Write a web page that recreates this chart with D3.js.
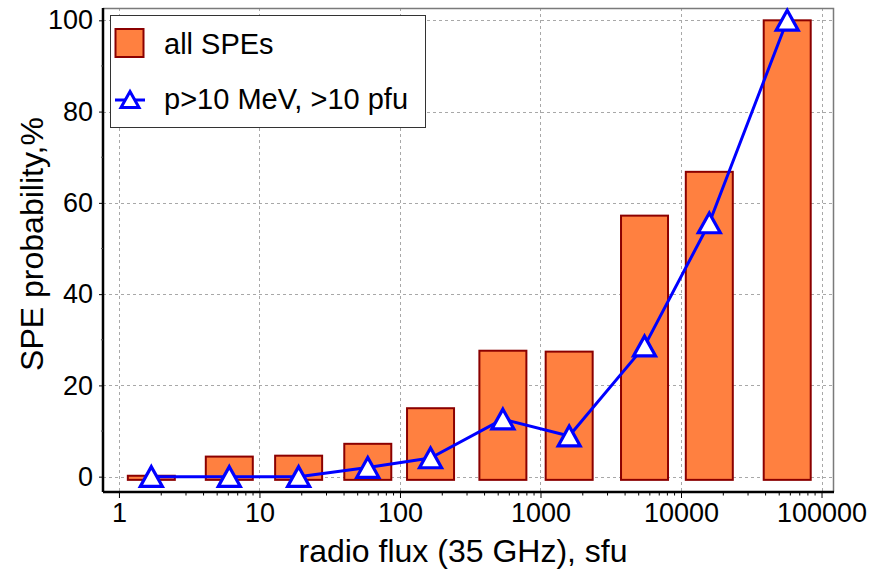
<!DOCTYPE html>
<html>
<head>
<meta charset="utf-8">
<script src="https://cdn.jsdelivr.net/npm/d3@7"></script>
<style>
  html, body { margin: 0; padding: 0; background: #fff; }
  svg { display: block; font-family: "Liberation Sans", Arial, sans-serif; }
</style>
</head>
<body>
<svg id="chart" width="873" height="569"></svg>
<script>
// Radio-flux bins (35 GHz, sfu) — bin centres on the log axis
const fluxBins = [1.7, 6.1, 19, 59, 165, 540, 1600, 5500, 15900, 57000];
// Probability of an SPE for all events, %
const allSPEs = [0.2, 4.4, 4.6, 7.2, 15.0, 27.6, 27.4, 57.2, 66.8, 100];
// Probability of a p>10 MeV, >10 pfu event, %
const protonSPEs = [0, 0, 0, 2.0, 4.1, 12.6, 8.9, 28.6, 55.6, 100];
// Axis ticks
const xTicks = [1, 10, 100, 1000, 10000, 100000];
const xTickLabels = ["1", "10", "100", "1000", "10000", "100000"];
const yTicks = [0, 20, 40, 60, 80, 100];
const yMinorTicks = [10, 30, 50, 70, 90];
const seriesNames = ["all SPEs", "p>10 MeV, >10 pfu"];

const svg = d3.select("#chart");
const plot = { left: 103, right: 834, top: 8, bottom: 492 };

const x = d3.scaleLog().domain([0.77, 122700]).range([plot.left, plot.right]);
const y = d3.scaleLinear().domain([-3.36, 102.7]).range([plot.bottom, plot.top]);
const barBase = -0.7;
const barWidth = 47;

// minor x ticks: 2..9 within each decade
const xMinorTicks = [];
for (let d = 1; d < 1e6; d *= 10) {
  for (let m = 2; m <= 9; m++) {
    const v = m * d;
    if (v > x.domain()[0] && v < x.domain()[1]) xMinorTicks.push(v);
  }
}

// gridlines
const grid = svg.append("g").attr("stroke", "#a8a8a8").attr("stroke-width", 1)
  .attr("stroke-dasharray", "3,3").attr("shape-rendering", "crispEdges");
grid.selectAll("line.gx").data(xTicks).join("line")
  .attr("x1", d => Math.round(x(d)) + 0.5).attr("x2", d => Math.round(x(d)) + 0.5)
  .attr("y1", plot.top).attr("y2", plot.bottom);
grid.selectAll("line.gy").data(yTicks).join("line")
  .attr("y1", d => Math.round(y(d)) + 0.5).attr("y2", d => Math.round(y(d)) + 0.5)
  .attr("x1", plot.left).attr("x2", plot.right);

// top / right frame
svg.append("path")
  .attr("d", `M${plot.left},${plot.top + 0.5}H${plot.right - 0.5}V${plot.bottom}`)
  .attr("fill", "none").attr("stroke", "#7a7a7a").attr("stroke-width", 1.5);

// bars
svg.append("g").selectAll("rect").data(fluxBins).join("rect")
  .attr("x", d => x(d) - barWidth / 2)
  .attr("width", barWidth)
  .attr("y", (d, i) => y(allSPEs[i]))
  .attr("height", (d, i) => y(barBase) - y(allSPEs[i]))
  .attr("fill", "#ff8040")
  .attr("stroke", "#8b0000")
  .attr("stroke-width", 2);

// proton-event line
const line = d3.line().x((d, i) => x(fluxBins[i])).y(d => y(d));
svg.append("path").datum(protonSPEs)
  .attr("d", line)
  .attr("fill", "none").attr("stroke", "#0000ff").attr("stroke-width", 3)
  .attr("stroke-linejoin", "round");

const triPath = "M0,-10L11,9.8L-11,9.8Z";
svg.append("g").selectAll("path").data(protonSPEs).join("path")
  .attr("transform", (d, i) => `translate(${x(fluxBins[i])},${y(d)})`)
  .attr("d", triPath)
  .attr("fill", "#fff").attr("stroke", "#0000ff").attr("stroke-width", 3.2)
  .attr("stroke-linejoin", "miter");

// axes
const xAxis = d3.axisBottom(x).tickValues(xTicks)
  .tickFormat((d, i) => xTickLabels[i]).tickSize(6).tickPadding(5);
const gx = svg.append("g").attr("transform", `translate(0,${plot.bottom})`).call(xAxis);
gx.selectAll(".minor").data(xMinorTicks).join("line")
  .attr("class", "minor")
  .attr("x1", d => x(d)).attr("x2", d => x(d))
  .attr("y1", 0).attr("y2", 3.5).attr("stroke", "#000");

const yAxis = d3.axisLeft(y).tickValues(yTicks).tickSize(4).tickPadding(6);
const gy = svg.append("g").attr("transform", `translate(${plot.left},0)`).call(yAxis);
gy.selectAll(".minor").data(yMinorTicks).join("line")
  .attr("class", "minor")
  .attr("y1", d => y(d)).attr("y2", d => y(d))
  .attr("x1", 0).attr("x2", -2).attr("stroke", "#555");

[gx, gy].forEach(g => {
  g.select(".domain").attr("stroke", "#000").attr("stroke-width", 2.5)
    .attr("d", g === gx ? `M${plot.left},0H${plot.right}` : `M0,${plot.top}V${plot.bottom}`);
  g.selectAll(".tick line").attr("stroke", "#000").attr("stroke-width", 1);
  g.selectAll(".tick text").attr("font-size", 27).attr("fill", "#000")
    .attr("font-family", "'Liberation Sans', Arial, sans-serif");
});
gx.selectAll(".tick text").attr("dy", "0.71em");

// axis titles
svg.append("text")
  .attr("x", 463).attr("y", 562)
  .attr("text-anchor", "middle").attr("font-size", 32)
  .text("radio flux (35 GHz), sfu");
svg.append("text")
  .attr("transform", "translate(43,244) rotate(-90)")
  .attr("text-anchor", "middle").attr("font-size", 32)
  .text("SPE probability,%");

// legend
const legend = svg.append("g");
legend.append("rect")
  .attr("x", 110.5).attr("y", 15.5).attr("width", 315).attr("height", 112)
  .attr("fill", "#fff").attr("stroke", "#333").attr("stroke-width", 1);
legend.append("rect")
  .attr("x", 115.5).attr("y", 29).attr("width", 28).attr("height", 28)
  .attr("fill", "#ff8040").attr("stroke", "#8b0000").attr("stroke-width", 2);
legend.append("line")
  .attr("x1", 115).attr("x2", 145).attr("y1", 100).attr("y2", 100)
  .attr("stroke", "#0000ff").attr("stroke-width", 3);
legend.append("path")
  .attr("transform", "translate(130,99.5)")
  .attr("d", "M0,-8L9,8L-9,8Z")
  .attr("fill", "#fff").attr("stroke", "#0000ff").attr("stroke-width", 3);
legend.selectAll("text.lbl").data(seriesNames).join("text")
  .attr("class", "lbl")
  .attr("x", 164).attr("y", (d, i) => i === 0 ? 53.5 : 109)
  .attr("font-size", 29).attr("fill", "#000")
  .text(d => d);
</script>
</body>
</html>
